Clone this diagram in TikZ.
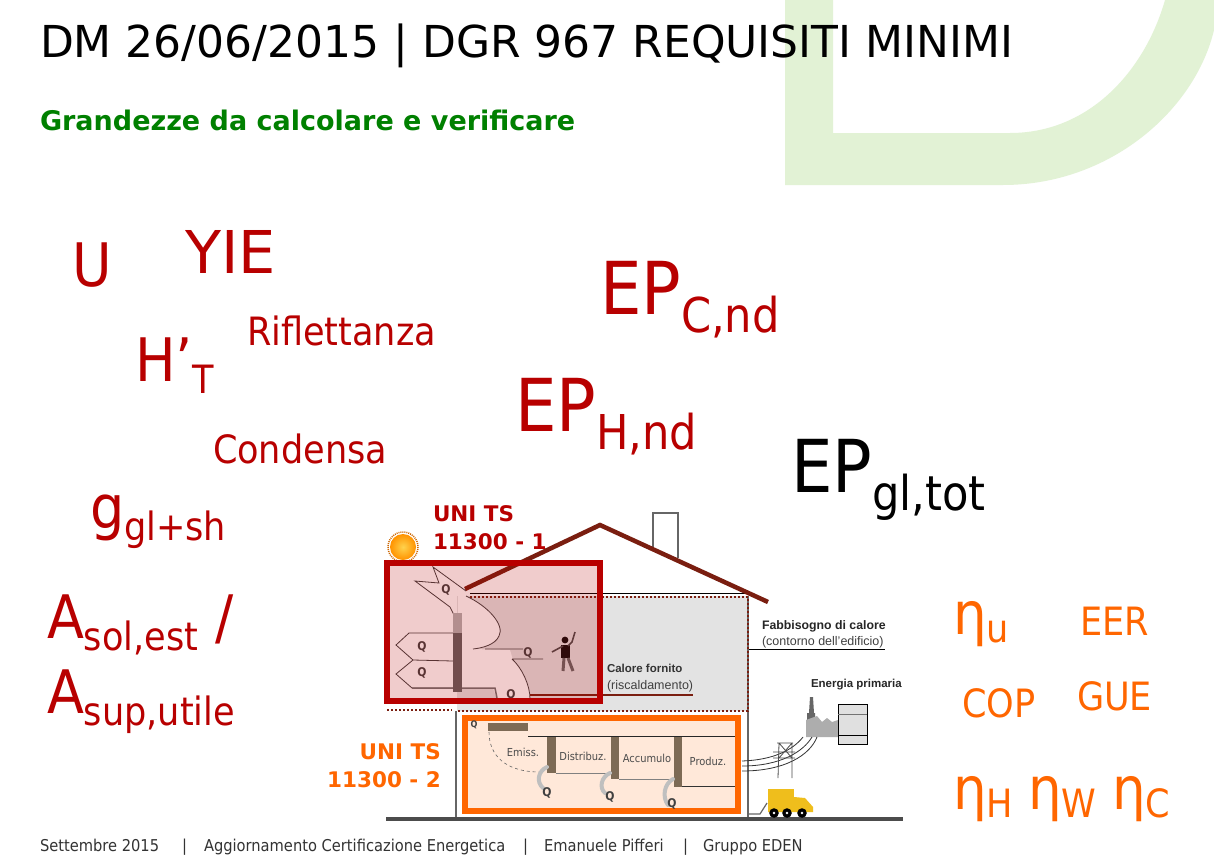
\documentclass[tikz,border=0pt]{standalone}
\usepackage{fontspec}
\setmainfont{DejaVu Sans Condensed}
\newfontfamily\lab{Liberation Sans}
\newfontfamily\wide{DejaVu Sans}
\definecolor{ringg}{HTML}{E2F2D5}
\definecolor{dred}{HTML}{B80000}
\definecolor{oran}{HTML}{FF6600}
\definecolor{ggreen}{HTML}{008000}
\definecolor{roofc}{HTML}{7A1E10}
\definecolor{chainc}{HTML}{7D6A55}
\definecolor{truckc}{HTML}{EFBE1C}
\tikzset{
 tx/.style={anchor=base west,inner sep=0pt,outer sep=0pt},
 redt/.style={tx,text=dred},
 orat/.style={tx,text=oran},
 foott/.style={tx,text=black!80,font=\fontsize{16.3}{16.3}\selectfont},
 wall/.style={draw=black!60,line width=2pt},
 dots/.style={draw=roofc,line width=2pt,dash pattern=on 2pt off 2pt},
 lossarrow/.style={draw=black!75,line width=.8pt},
 qlab/.style={inner sep=0pt,text=black!75},
 heat/.style={draw=black!25,line width=4pt,line cap=round},
}
\newcommand{\fs}[1]{\fontsize{#1}{#1}\selectfont}
\begin{document}
\begin{tikzpicture}[x=1pt,y=-1pt]
\useasboundingbox (0,0) rectangle (1214,864);
\fill[white] (0,0) rectangle (1214,864);
% background ring
\fill[ringg,even odd rule] (785,0) -- (785,185) -- (1003,185) .. controls (1110,185) and (1195,110) .. (1214,30) -- (1214,0) -- cycle
 (833,0) -- (833,133) -- (1010,133) .. controls (1090,133) and (1145,70) .. (1165,0) -- cycle;
% title
\node[tx,text=black] (title) at (40,58) {\fs{44}\wide DM 26/06/2015 | DGR 967 REQUISITI MINIMI};
\node[tx,text=ggreen] (sub) at (40,130) {\fs{27}\wide\bfseries Grandezze da calcolare e verificare};
% red quantities
\node[redt] (u) at (72,286) {\fs{60}U};
\node[redt] (yie) at (185,273) {\fs{59}\wide YIE};
\node[redt] (rif) at (247,345) {\fs{39}Riflettanza};
\node[redt] (h) at (135,381) {\fs{60}H’\raisebox{-.2em}{\fs{39}T}};
\node[redt] (cond) at (213,463) {\fs{39}Condensa};
\node[redt] (g) at (90,528) {\fs{60}g\raisebox{-.2em}{\fs{39}gl+sh}};
\node[redt] (a1) at (47,638) {\fs{60}A\raisebox{-.2em}{\fs{39}sol,est}\fs{60} /};
\node[redt] (a2) at (47,713) {\fs{60}A\raisebox{-.2em}{\fs{39}sup,utile}};
\node[redt] (epc) at (600,314) {\fs{73}EP\raisebox{-.26em}{\fs{48}C,nd}};
\node[redt] (eph) at (515,431) {\fs{73}EP\raisebox{-.26em}{\fs{48}H,nd}};
\node[tx,text=black] (epg) at (791,492) {\fs{73}EP\raisebox{-.26em}{\fs{48}gl,tot}};
% orange quantities
\node[orat] (etau) at (953,634) {\fs{59}η\raisebox{-.15em}{\fs{39}u}};
\node[orat] (eer) at (1080,635) {\fs{39}EER};
\node[orat] (cop) at (962,717) {\fs{39}COP};
\node[orat] (gue) at (1077,710) {\fs{39}GUE};
\node[orat] (etah) at (953,809) {\fs{59}η\raisebox{-.15em}{\fs{39}H}};
\node[orat] (etaw) at (1028,809) {\fs{59}η\raisebox{-.15em}{\fs{39}W}};
\node[orat] (etac) at (1112,809) {\fs{59}η\raisebox{-.15em}{\fs{39}C}};
% footer
\node[foott] (f1) at (40,851) {Settembre 2015};
\node[foott] (s1) at (182,851) {|};
\node[foott] (f2) at (204,851) {Aggiornamento Certificazione Energetica};
\node[foott] (s2) at (523,851) {|};
\node[foott] (f3) at (544,851) {Emanuele Pifferi};
\node[foott] (s3) at (683,851) {|};
\node[foott] (f4) at (703,851) {Gruppo EDEN};
% ===== house =====
\fill[black!11] (457,596) rectangle (748,711);
% white heat arrow cut out of the grey room
\fill[white] (466,596) .. controls (488,606) and (505,625) .. (499,636) .. controls (495,645) and (482,648) .. (473,649) -- (510,650) -- (513,660) .. controls (522,668) and (530,685) .. (530,699) -- (497,699) -- (493,688) -- (458,688) -- (458,596) -- cycle;
% chimney
\draw[black!60,line width=2pt,fill=white] (653,547) -- (653,513) -- (678,513) -- (678,558);
% walls
\draw[wall] (456,711) -- (456,820);
\draw[wall] (748,596) -- (748,820);
\draw[black,line width=.7pt] (470,593) -- (748,593);
% dotted envelope
\draw[dots] (470,597) -- (748,597) -- (748,711) -- (457,711);
\draw[dots] (387,710) -- (452,710);
% roof
\draw[roofc,line width=4.5pt] (465,589) -- (600,525) -- (768,602);
% ground
\draw[black!70,line width=4pt] (386,819) -- (903,819);
% sun
\shade[inner color=yellow!50!orange!70,outer color=orange!85!yellow] (403,547) circle (13);
\draw[orange!80!black,line width=1.5pt,dash pattern=on 1pt off 1pt] (403,547) circle (15);
% loss arrows
\draw[lossarrow] (466,596) .. controls (488,606) and (505,625) .. (499,636) .. controls (495,645) and (482,648) .. (473,649);
\draw[lossarrow] (466,591) -- (433,567) -- (439,583) -- (415,581) -- (450,607) -- (454,615);
\draw[lossarrow] (453,633) -- (409,633) -- (396,645) -- (413,660) -- (453,661) (413,660) -- (396,674) -- (412,688) -- (453,688);
\draw[black!55,line width=1.5pt] (412,688) -- (453,688) -- (495,688) -- (497,698);
\fill[black!30] (453,613) rectangle (462,633);
\fill[black!62] (453,633) rectangle (462,692);
\draw[lossarrow] (485,649) -- (523,649) (512,659) -- (543,659) (512,659) .. controls (522,668) and (530,685) .. (530,699);
\draw[roofc,line width=1.2pt] (530,695) -- (693,695);
% person
\fill[black!95] (565,640) circle (3.4);
\fill[black!95] (561,645) rectangle (570,658);
\draw[black!70,line width=1.6pt] (568,646) -- (572,642) -- (575,632) (563,646) -- (552,652);
\draw[black!60,line width=3pt] (564,658) -- (563,671) (568,658) -- (573,671);
% Qs
\foreach \n/\a/\b in {qa/446/590,qb/422/647,qc/422/673,qd/528/653,qe/511/695}{
 \node[qlab] (\n) at (\a,\b) {\fs{12}\bfseries Q};}
% labels in house
\node[tx,text=black!80] (calo) at (607,672) {\fs{11.5}\lab\bfseries Calore fornito};
\node[tx,text=black!75] (risc) at (607,689) {\fs{12.5}\lab (riscaldamento)};
\node[tx,text=black!85] (fab) at (762,629) {\fs{12.3}\lab\bfseries Fabbisogno di calore};
\node[tx,text=black!75] (cont) at (762,645) {\fs{12.5}\lab (contorno dell’edificio)};
\coordinate (fab1) at (749,649); \coordinate (fab2) at (885,649);
\draw[black,line width=.7pt] (fab1) -- (fab2);
\node[tx,text=black!85] (ener) at (811,687) {\fs{11.5}\lab\bfseries Energia primaria};
% factory and tank
\fill[black!60] (807,722) -- (807,713) -- (809,713) -- (810,697) -- (813,697) -- (814,713) -- (815,713) -- (815,718) -- cycle;
\fill[black!32] (806,737) -- (806,720) -- (817,716) -- (822,722) -- (827,718) -- (832,722) -- (838,720) -- (838,737) -- cycle;
\draw[black,fill=black!12,line width=.7pt] (838,704) rectangle (867,744);
\draw[black!55,line width=.6pt] (838,714) -- (867,714);
\draw[black,line width=.7pt] (838,735) -- (867,735);
% power lines
\draw[black!80,line width=.8pt] (742,761) .. controls (773,760) and (793,750) .. (803,737)
 (742,766) .. controls (780,766) and (803,752) .. (812,737)
 (742,771) .. controls (785,771) and (810,755) .. (817,737);
\draw[black!70,line width=.8pt] (779,743) -- (778,778) (792,743) -- (792,778) (777,743) -- (793,743) (773,752) -- (795,752) (773,758) -- (795,758) (779,743) -- (792,758) (792,743) -- (779,758);
% truck
\draw[black!60,line width=1.2pt] (748,814) -- (760,814) -- (767,803);
\fill[truckc] (768,789) rectangle (794,808);
\fill[truckc] (794,797) -- (805,798) -- (813,807) -- (813,812) -- (768,812) -- (768,806) -- (794,806) -- cycle;
\foreach \xx in {774,787,802} \fill[black] (\xx,813) circle (4.8);
\foreach \xx in {774,787,802} \fill[white] (\xx,813) circle (1.3);
% ===== orange overlay =====
\node[draw=oran,line width=6pt,fill=oran!15,minimum width=273pt,minimum height=93pt,inner sep=0pt,outer sep=0pt,anchor=north west] (orb) at (465,718) {};
\fill[chainc] (488,723) rectangle (528,731);
\draw[black!85,line width=.7pt] (528,736) -- (735,736);
\draw[black!60,line width=.6pt,dashed] (489,732) .. controls (489,755) and (505,772) .. (540,772);
\node[qlab] (qcs) at (474,725) {\fs{9}\bfseries Q};
\foreach \xa/\xb/\ya in {547/556/773,611/619/779,674/682/787}{
 \fill[chainc] (\xa,737) rectangle (\xb,\ya);
}
\draw[black!50,line width=.9pt] (556,773) -- (611,773) (619,779) -- (674,779);
\draw[black!80,line width=.7pt] (682,786) -- (735,786);
\node[inner sep=0pt,text=black!70] (e1) at (523,752) {\fs{11}Emiss.};
\node[inner sep=0pt,text=black!70] (e2) at (583,756) {\fs{11}Distribuz.};
\node[inner sep=0pt,text=black!70] (e3) at (647,758) {\fs{11}Accumulo};
\node[inner sep=0pt,text=black!70] (e4) at (708,761) {\fs{11}Produz.};
\draw[heat] (547,767) .. controls (538,771) and (536,782) .. (543,788);
\draw[heat] (610,773) .. controls (601,777) and (599,788) .. (605,793);
\draw[heat] (673,779) .. controls (664,784) and (662,797) .. (668,805);
\node[qlab] (q1) at (547,793) {\fs{12}\bfseries Q};
\node[qlab] (q2) at (610,797) {\fs{12}\bfseries Q};
\node[qlab] (q3) at (672,804) {\fs{12}\bfseries Q};
% ===== red overlay =====
\fill[dred,fill opacity=.2] (387,563) rectangle (600,701);
\node[draw=dred,line width=6pt,minimum width=213pt,minimum height=138pt,inner sep=0pt,outer sep=0pt,anchor=north west] (rdb) at (387,563) {};
% labels
\node[tx,text=dred] (uni1) at (433,521) {\fs{21.5}\wide\bfseries UNI TS};
\node[tx,text=dred] (uni1b) at (433,549) {\fs{21.5}\wide\bfseries 11300 - 1};
\node[anchor=base east,inner sep=0pt,text=oran] (uni2) at (441,759) {\fs{21.5}\wide\bfseries UNI TS};
\node[anchor=base east,inner sep=0pt,text=oran] (uni2b) at (441,787) {\fs{21.5}\wide\bfseries 11300 - 2};
\end{tikzpicture}
\end{document}
